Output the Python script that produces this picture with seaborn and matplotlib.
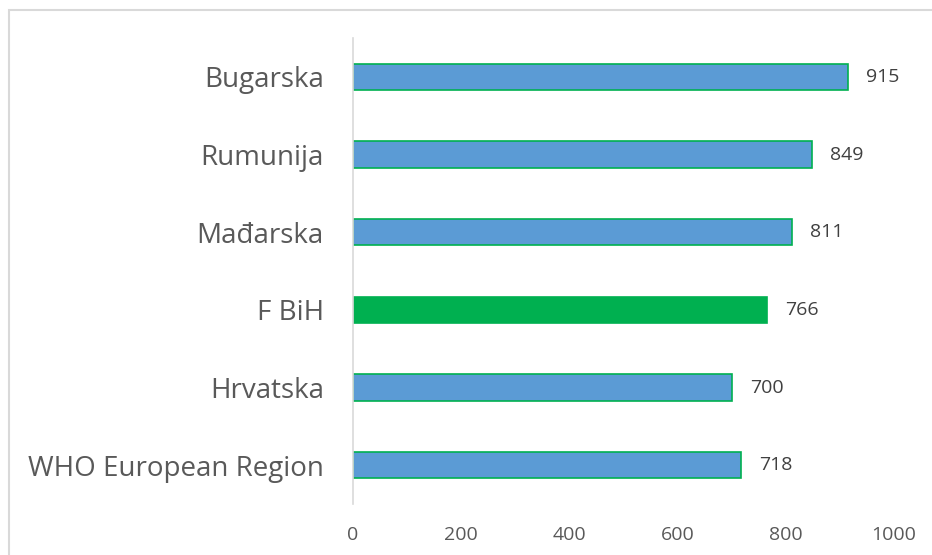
import seaborn as sns
import pandas as pd
import matplotlib
matplotlib.use('Agg')
from matplotlib import pyplot as plt
from matplotlib.patches import Rectangle

countries = ['Bugarska', 'Rumunija', 'Mađarska', 'F BiH', 'Hrvatska', 'WHO European Region']
values = [915, 849, 811, 766, 700, 718]
highlight = 'F BiH'

df = pd.DataFrame({'country': countries, 'value': values})
df['grp'] = ['hl' if c == highlight else 'other' for c in countries]

sns.set_style('white')
plt.rcParams['font.family'] = ['Open Sans', 'DejaVu Sans']

fig = plt.figure(figsize=(9.32, 5.55), dpi=100)
ax = fig.add_axes([0.3788, 0.0919, 0.5804, 0.8396])

sns.barplot(data=df, x='value', y='country', hue='grp', dodge=False, legend=False,
            palette={'other': '#5B9BD5', 'hl': '#00B050'}, saturation=1, width=0.34,
            edgecolor='#00B050', linewidth=1.2, ax=ax)

for cont in ax.containers:
    ax.bar_label(cont, padding=13, fontsize=14, color='#404040')

ax.set_xlim(0, 1000)
ax.set_xticks([0, 200, 400, 600, 800, 1000])
ax.tick_params(axis='x', length=0, pad=16, labelsize=14, labelcolor='#595959')
ax.tick_params(axis='y', length=0, pad=21, labelsize=20, labelcolor='#595959')
ax.set_xlabel('')
ax.set_ylabel('')
for s in ['top', 'right', 'bottom']:
    ax.spines[s].set_visible(False)
ax.spines['left'].set_color('#D9D9D9')
ax.spines['left'].set_linewidth(1.2)

# light frame around the chart area (only top and left visible in the crop)
fig.patches.append(Rectangle((9 / 932, -0.1), 1.2, 1 - 10 / 555 + 0.1,
                             transform=fig.transFigure, fill=False,
                             edgecolor='#D9D9D9', linewidth=1.5))

fig.savefig('out.png', dpi=100)
